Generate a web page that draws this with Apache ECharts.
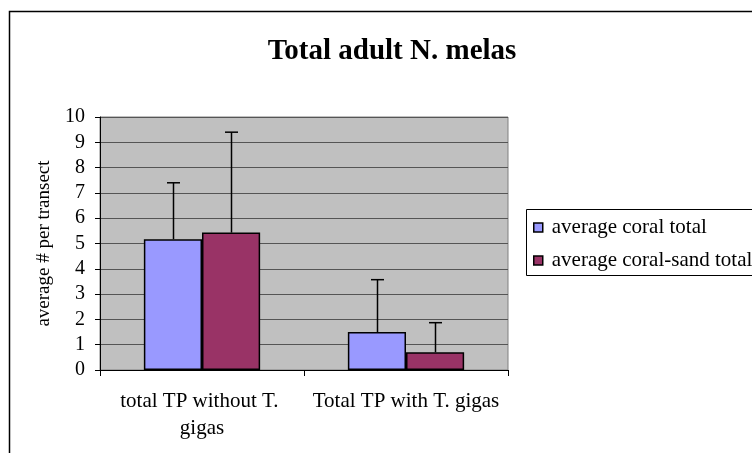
<!DOCTYPE html>
<html>
<head>
<meta charset="utf-8">
<script src="https://cdn.jsdelivr.net/npm/echarts@6/dist/echarts.min.js"></script>
<style>html,body{margin:0;padding:0;background:#fff;}#c{width:752px;height:453px;}</style>
</head>
<body>
<div id="c"></div>
<script>
var categories = ['total TP without T. gigas', 'Total TP with T. gigas'];
var seriesNames = ['average coral total', 'average coral-sand total'];
var coral = [5.17, 1.50];
var sand = [5.43, 0.70];
var coralErr = [2.23, 2.07];
var sandErr = [3.97, 1.17];
var yTicks = [0, 1, 2, 3, 4, 5, 6, 7, 8, 9, 10];

var FONT = 'Liberation Serif';
var GAP = 0.43;

function errSeries(vals, errs, side) {
  return {
    type: 'custom',
    z: 5,
    silent: true,
    data: vals.map(function (v, i) { return [i, v, errs[i]]; }),
    renderItem: function (params, api) {
      var idx = api.value(0), v = api.value(1), e = api.value(2);
      var band = api.size([1, 0])[0];
      var barW = band * (1 - GAP) / 2;
      var base = api.coord([idx, v]);
      var top = api.coord([idx, v + e]);
      var x = Math.round(base[0] + side * barW / 2) + 0.5;
      var cap = 6.5;
      return {
        type: 'group',
        children: [
          { type: 'line', shape: { x1: x, y1: base[1], x2: x, y2: top[1] }, style: { stroke: '#000', lineWidth: 1.5 } },
          { type: 'line', shape: { x1: x - cap, y1: top[1], x2: x + cap, y2: top[1] }, style: { stroke: '#000', lineWidth: 1.5 } }
        ]
      };
    }
  };
}

var chart = echarts.init(document.getElementById('c'), null, { renderer: 'canvas' });
chart.setOption({
  animation: false,
  backgroundColor: '#fff',
  textStyle: { fontFamily: FONT },
  title: {
    text: 'Total adult N. melas',
    left: 387, textAlign: 'center', top: 32,
    textStyle: { fontFamily: FONT, fontWeight: 'bold', fontSize: 29, color: '#000' }
  },
  graphic: [
    { type: 'rect', z: -1, shape: { x: 9.5, y: 11.5, width: 800, height: 500 }, style: { fill: 'none', stroke: '#000', lineWidth: 1.5 } },
    { type: 'rect', z: 1, shape: { x: 526.5, y: 209.5, width: 260, height: 66 }, style: { fill: '#fff', stroke: '#000', lineWidth: 1 } }
  ],
  legend: {
    orient: 'vertical',
    left: 533, top: 217,
    itemWidth: 9, itemHeight: 9, itemGap: 12,
    padding: 0,
    z: 3,
    data: [
      { name: seriesNames[0], icon: 'rect', itemStyle: { borderColor: '#000', borderWidth: 1.5 } },
      { name: seriesNames[1], icon: 'rect', itemStyle: { borderColor: '#000', borderWidth: 1.5 } }
    ],
    textStyle: { fontFamily: FONT, fontSize: 21, color: '#000', padding: [0, 0, 0, 4] }
  },
  grid: {
    left: 100, right: 244, top: 117, bottom: 83,
    show: true, backgroundColor: '#C0C0C0', borderColor: '#808080', borderWidth: 1
  },
  xAxis: {
    type: 'category',
    data: categories,
    axisLine: { lineStyle: { color: '#000', width: 1 } },
    axisTick: { show: true, interval: 0, length: 6, lineStyle: { color: '#000' } },
    axisLabel: {
      interval: 0, margin: 18, width: 200, overflow: 'break',
      fontFamily: FONT, fontSize: 21, color: '#000', lineHeight: 27
    },
    splitLine: { show: false }
  },
  yAxis: {
    type: 'value',
    min: yTicks[0], max: yTicks[yTicks.length - 1], interval: 1,
    name: 'average # per transect',
    nameLocation: 'middle', nameGap: 46, nameRotate: 90,
    nameTextStyle: { fontFamily: FONT, fontSize: 19, color: '#000' },
    axisLine: { show: true, lineStyle: { color: '#000', width: 1 } },
    axisTick: { show: true, length: 5, lineStyle: { color: '#000' } },
    axisLabel: { margin: 15, fontFamily: FONT, fontSize: 20, color: '#000' },
    splitLine: { show: true, lineStyle: { color: '#555', width: 1 } }
  },
  series: [
    {
      name: seriesNames[0], type: 'bar', data: coral,
      barGap: '0%', barCategoryGap: (GAP * 100) + '%',
      itemStyle: { color: '#9999FF', borderColor: '#000', borderWidth: 1.5 }
    },
    {
      name: seriesNames[1], type: 'bar', data: sand,
      barGap: '0%', barCategoryGap: (GAP * 100) + '%',
      itemStyle: { color: '#993366', borderColor: '#000', borderWidth: 1.5 }
    },
    errSeries(coral, coralErr, -1),
    errSeries(sand, sandErr, 1)
  ]
});
</script>
</body>
</html>
